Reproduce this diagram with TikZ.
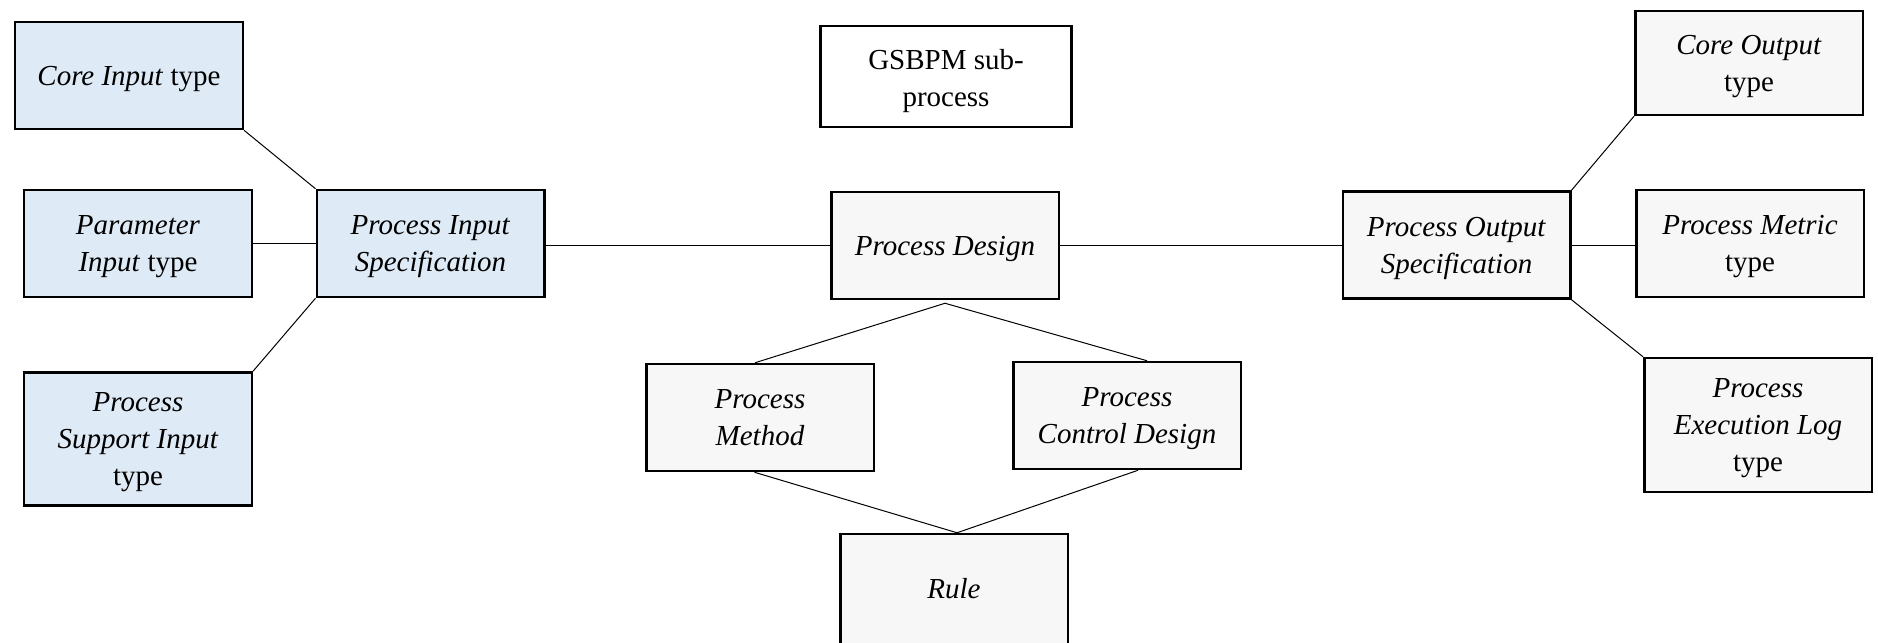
\documentclass[tikz,border=0pt]{standalone}
\usepackage{fontspec}
\setmainfont{Liberation Serif}
\usepackage{tikz}
\usetikzlibrary{positioning}
\definecolor{inblue}{RGB}{222,234,246}
\definecolor{boxgrey}{RGB}{247,247,247}
\newcommand{\topstrut}{\rule{0pt}{10.4pt}}
\tikzset{%
    box/.style={%
        draw, line width=1pt, align=center, inner sep=0pt,
        minimum width=91pt, minimum height=42.8pt,
        execute at begin node={\topstrut},
        execute at end node={\rule[-2.6pt]{0pt}{0pt}}
    },
    inbox/.style={box, fill=inblue},
    greybox/.style={box, fill=boxgrey}
}

\begin{document}
\begin{tikzpicture}[x=0.4pt,y=-0.4pt,font=\fontsize{11.6}{14.8}\selectfont]
\useasboundingbox (0,0) rectangle (1878,642);
% inputs
\node[inbox] (corein) at (129,75.5) {\textit{Core Input} type};
\node[inbox] (param) at (138,243.5) {\topstrut\textit{Parameter}\\\textit{Input} type};
\node[inbox,minimum height=53.2pt] (support) at (138,439) {\topstrut\textit{Process}\\\textit{Support Input}\\type};
\node[inbox] (pis) at (430.5,243.5) {\topstrut\textit{Process Input}\\\textit{Specification}};
% middle
\node[box,minimum width=100.4pt,minimum height=40.4pt] (gsbpm) at (946,76.5) {\rule{0pt}{12pt}GSBPM sub-\\process};
\node[greybox] (pd) at (945,245.5) {\textit{Process Design}};
\node[greybox] (pm) at (760,417.5) {\topstrut\textit{Process}\\\textit{Method}};
\node[greybox] (pcd) at (1127,415.5) {\topstrut\textit{Process}\\\textit{Control Design}};
\node[greybox,minimum height=44pt] (rule) at (954,589) {\textit{Rule}};
% outputs
\node[greybox] (pos) at (1456.5,245) {\topstrut\textit{Process Output}\\\textit{Specification}};
\node[greybox,minimum height=41.6pt] (coreout) at (1749,63) {\topstrut\textit{Core Output}\\type};
\node[greybox] (metric) at (1750,243.5) {\topstrut\textit{Process Metric}\\type};
\node[greybox,minimum height=53.6pt] (execlog) at (1758,425) {\topstrut\textit{Process}\\\textit{Execution Log}\\type};
\coordinate (apex) at ([yshift=-1.2pt]pd.south);

\draw (corein.south east) -- (pis.north west);
\draw (param.east) -- (pis.west);
\draw (support.north east) -- (pis.south west);
\draw (pd.west) -- (pd.west -| pis.east);
\draw (pd.east) -- (pd.east -| pos.west);
\draw (pos.north east) -- (coreout.south west);
\draw (pos.east) -- (pos.east -| metric.west);
\draw (pos.south east) -- (execlog.north west);
\draw ([xshift=-2pt]pm.north) -- (apex) -- ([xshift=8pt]pcd.north);
\draw ([xshift=-2.2pt]pm.south) -- ([xshift=1.2pt]rule.north) -- ([xshift=4.4pt]pcd.south);
\end{tikzpicture}
\end{document}
